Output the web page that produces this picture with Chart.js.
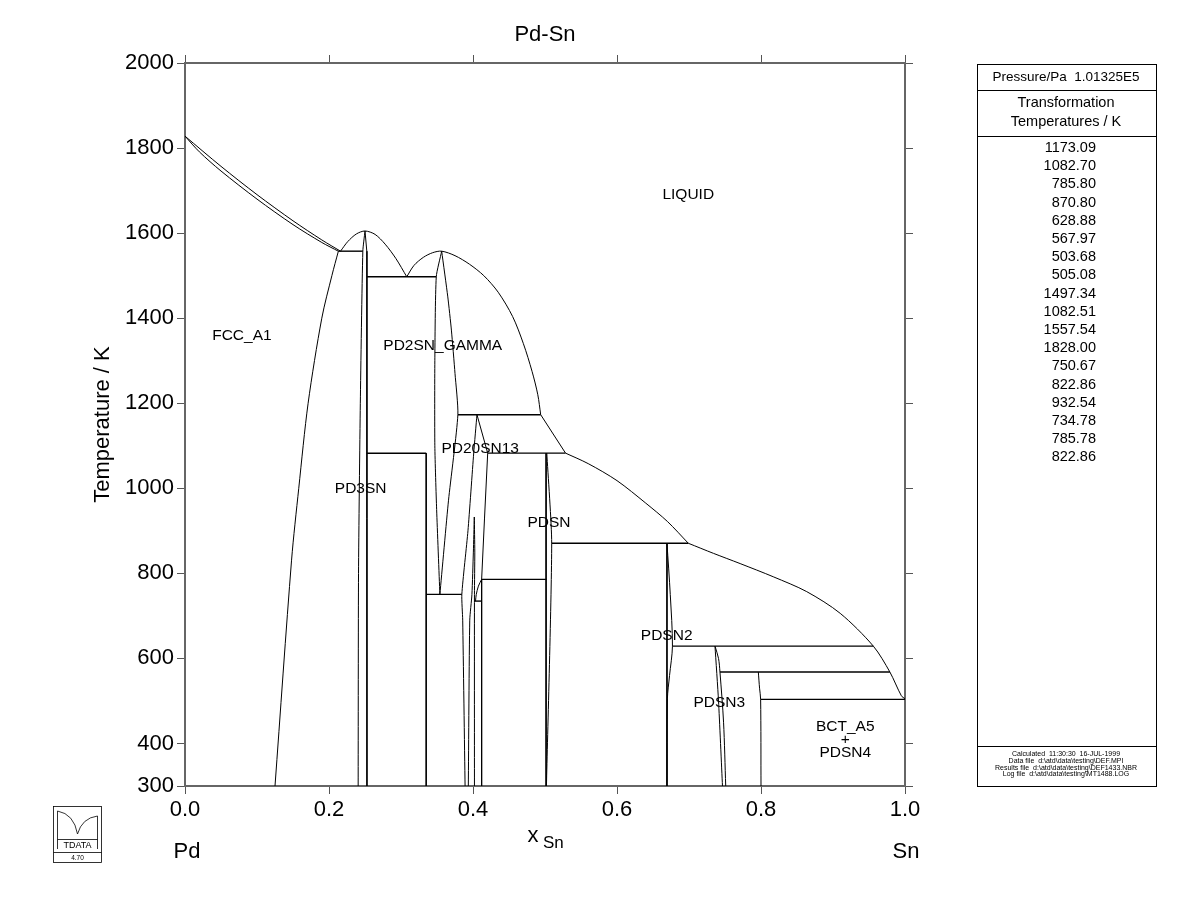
<!DOCTYPE html>
<html>
<head>
<meta charset="utf-8">
<script src="https://cdn.jsdelivr.net/npm/chart.js@4.4.0/dist/chart.umd.min.js"></script>
<style>
  html, body { margin: 0; padding: 0; background: #fff; }
  #wrap { width: 1200px; height: 923px; }
</style>
</head>
<body>
<div id="wrap"><canvas id="phaseChart" width="1200" height="923"></canvas></div>
<script>
// axis ticks
const xTickValues = [0, 0.2, 0.4, 0.6, 0.8, 1.0];
const yTickValues = [300, 400, 600, 800, 1000, 1200, 1400, 1600, 1800, 2000];

// table on the right
const transformationTemps = [1173.09, 1082.70, 785.80, 870.80, 628.88, 567.97, 503.68, 505.08,
  1497.34, 1082.51, 1557.54, 1828.00, 750.67, 822.86, 932.54, 734.78, 785.78, 822.86];

// phase boundaries, [x(Sn), T/K]
const liquidusPd = [[0, 1828], [0.05, 1757], [0.10, 1690.5], [0.15, 1629], [0.19, 1584], [0.216, 1557.5]];
const solidusFcc = [[0, 1828], [0.02, 1791], [0.05, 1746], [0.10, 1680], [0.15, 1620], [0.19, 1578], [0.213, 1557.5]];
const solvusFcc = [[0.213, 1557.5], [0.204, 1500], [0.19, 1400], [0.171, 1200], [0.158, 1000], [0.148, 831], [0.125, 300]];
const liquidusPd3Sn = [[0.216, 1557.5], [0.226, 1580], [0.238, 1598], [0.25, 1605], [0.264, 1597], [0.278, 1574], [0.293, 1540], [0.308, 1497.3]];
const liquidusGamma = [[0.308, 1497.3], [0.318, 1524], [0.331, 1543], [0.344, 1554], [0.3565, 1557.5], [0.375, 1547],
  [0.395, 1527], [0.415, 1500], [0.435, 1461], [0.455, 1404], [0.47, 1340], [0.482, 1275], [0.49, 1220], [0.494, 1173.1]];
const liquidusMid = [[0.494, 1173.1], [0.5285, 1082.7]];
const liquidusPdSn = [[0.5285, 1082.7], [0.56, 1058], [0.60, 1018], [0.64, 965], [0.67, 922], [0.699, 870.8]];
const liquidusSn = [[0.699, 870.8], [0.734, 847], [0.771, 823], [0.817, 792], [0.8635, 757], [0.91, 706],
  [0.956, 628.9], [0.979, 568], [0.995, 512], [1.0, 505.1]];

const pd3snLeft = [[0.25, 1605], [0.247, 1557.5], [0.2435, 1200], [0.241, 800], [0.2405, 300]];
const pd3snRight = [[0.25, 1605], [0.2525, 1557.5], [0.2527, 1497.3], [0.2527, 300]];
const pd2snLine = [[0.335, 1082.51], [0.335, 300]];
const gammaLeft = [[0.3565, 1557.5], [0.349, 1497.34], [0.347, 1300], [0.347, 1100], [0.3495, 950], [0.354, 750.67]];
const gammaRight = [[0.3565, 1557.5], [0.365, 1450], [0.370, 1372], [0.375, 1270], [0.379, 1173.09], [0.366, 972], [0.354, 750.67]];
const pd20sn13Left = [[0.4055, 1173.09], [0.401, 1083], [0.393, 900], [0.3845, 750.67], [0.3857, 690], [0.389, 300]];
const pd20sn13Right = [[0.4055, 1173.09], [0.4204, 1082.7], [0.416, 930], [0.412, 785.8], [0.412, 300]];
const bumpLine = [[0.412, 785.8], [0.4075, 770], [0.4045, 750], [0.4035, 734.78]];
const lensLeft = [[0.4018, 932.54], [0.4005, 850], [0.3985, 750], [0.3955, 690], [0.3935, 300]];
const lensRight = [[0.4018, 932.54], [0.4025, 850], [0.402, 750], [0.402, 300]];
const pdsnLeft = [[0.5015, 1082.7], [0.5015, 300]];
const pdsnRight = [[0.5025, 1082.7], [0.5093, 870.8], [0.502, 300]];
const pdsn2Left = [[0.6694, 870.8], [0.6694, 300]];
const pdsn2Right = [[0.6694, 870.8], [0.674, 750], [0.677, 628.88], [0.673, 560], [0.670, 505], [0.6694, 300]];
const pdsn3Left = [[0.7361, 628.88], [0.741, 500], [0.7465, 300]];
const pdsn3Right = [[0.7361, 628.88], [0.741, 600], [0.743, 567.97], [0.748, 450], [0.751, 300]];
const pdsn4Left = [[0.7963, 567.97], [0.798, 530], [0.7995, 503.68], [0.8, 300]];

// invariant (horizontal) lines
const inv1557 = [[0.213, 1557.54], [0.247, 1557.54]];
const inv1497 = [[0.2527, 1497.34], [0.349, 1497.34]];
const inv1173 = [[0.379, 1173.09], [0.494, 1173.09]];
const inv1082a = [[0.2527, 1082.51], [0.335, 1082.51]];
const inv1082b = [[0.4204, 1082.70], [0.5285, 1082.70]];
const inv871 = [[0.5093, 870.80], [0.699, 870.80]];
const inv786 = [[0.412, 785.80], [0.502, 785.80]];
const inv751 = [[0.335, 750.67], [0.3845, 750.67]];
const inv735 = [[0.402, 734.78], [0.412, 734.78]];
const inv629 = [[0.677, 628.88], [0.956, 628.88]];
const inv568 = [[0.743, 567.97], [0.979, 567.97]];
const inv504 = [[0.7995, 503.68], [1.0, 503.68]];

// phase labels: text, x, T
const phaseLabels = [
  ['LIQUID', 0.699, 1690], ['FCC_A1', 0.079, 1358], ['PD2SN_GAMMA', 0.358, 1335],
  ['PD20SN13', 0.41, 1092], ['PD3SN', 0.244, 1000], ['PDSN', 0.5055, 918],
  ['PDSN2', 0.669, 653], ['PDSN3', 0.742, 495],
  ['BCT_A5', 0.917, 439], ['+', 0.917, 408], ['PDSN4', 0.917, 378]
];

const curves = [
  [liquidusPd, 0.3], [solidusFcc, 0.3], [solvusFcc, 0.3], [liquidusPd3Sn, 0.3], [liquidusGamma, 0.3],
  [liquidusMid, 0], [liquidusPdSn, 0.3], [liquidusSn, 0.3],
  [pd3snLeft, 0.2], [pd3snRight, 0], [pd2snLine, 0], [gammaLeft, 0.2], [gammaRight, 0.2],
  [pd20sn13Left, 0.2], [pd20sn13Right, 0], [bumpLine, 0.3], [lensLeft, 0.2], [lensRight, 0.2],
  [pdsnLeft, 0], [pdsnRight, 0.2], [pdsn2Left, 0], [pdsn2Right, 0.3],
  [pdsn3Left, 0.2], [pdsn3Right, 0.3], [pdsn4Left, 0.3]
];
const invariants = [inv1557, inv1497, inv1173, inv1082a, inv1082b, inv871, inv786, inv751, inv735, inv629, inv568, inv504];

const FONT = "'Liberation Sans', Arial, sans-serif";

const datasets = [];
curves.forEach(([pts, t]) => {
  datasets.push({
    data: pts.map(p => ({ x: p[0], y: p[1] })),
    showLine: true, borderColor: '#000', borderWidth: 1, pointRadius: 0, tension: t
  });
});
invariants.forEach(pts => {
  datasets.push({
    data: pts.map(p => ({ x: p[0], y: p[1] })),
    showLine: true, borderColor: '#000', borderWidth: 1.4, pointRadius: 0, tension: 0
  });
});

const overlay = {
  id: 'overlay',
  afterDraw(chart) {
    const ctx = chart.ctx;
    const xs = chart.scales.x, ys = chart.scales.y;
    ctx.save();
    ctx.fillStyle = '#000';
    ctx.strokeStyle = '#000';
    ctx.textBaseline = 'middle';

    ctx.font = '22px ' + FONT;
    ctx.textAlign = 'center';
    ctx.fillText('Pd-Sn', (chart.chartArea.left + chart.chartArea.right) / 2, 35);
    ctx.fillText('Pd', xs.getPixelForValue(0) + 2, 852);
    ctx.fillText('Sn', xs.getPixelForValue(1) + 1, 852);
    ctx.fillText('x', 533, 836);
    ctx.font = '17px ' + FONT;
    ctx.textAlign = 'left';
    ctx.fillText('Sn', 543, 843);

    ctx.font = '15.5px ' + FONT;
    ctx.textAlign = 'center';
    phaseLabels.forEach(([t, x, y]) => {
      ctx.fillText(t, xs.getPixelForValue(x), ys.getPixelForValue(y));
    });

    // right panel
    ctx.lineWidth = 1;
    ctx.strokeRect(977.5, 64.5, 179, 722);
    const line = (x1, y1, x2, y2) => { ctx.beginPath(); ctx.moveTo(x1, y1); ctx.lineTo(x2, y2); ctx.stroke(); };
    line(977.5, 90.5, 1156.5, 90.5);
    line(977.5, 136.5, 1156.5, 136.5);
    line(977.5, 746.5, 1156.5, 746.5);
    ctx.font = '13.5px ' + FONT;
    ctx.fillText('Pressure/Pa  1.01325E5', 1066, 77);
    ctx.font = '14.5px ' + FONT;
    ctx.fillText('Transformation', 1066, 103);
    ctx.fillText('Temperatures / K', 1066, 122);
    ctx.textAlign = 'right';
    transformationTemps.forEach((v, i) => {
      ctx.fillText(v.toFixed(2), 1096, 148 + i * 18.2);
    });
    ctx.textAlign = 'center';
    ctx.font = '7px ' + FONT;
    ['Calculated  11:30:30  16-JUL-1999', 'Data file  d:\\atd\\data\\testing\\DEF.MPI',
     'Results file  d:\\atd\\data\\testing\\DEF1433.NBR', 'Log file  d:\\atd\\data\\testing\\MT1488.LOG']
      .forEach((s, i) => ctx.fillText(s, 1066, 754 + i * 6.8));

    // TDATA logo
    ctx.lineWidth = 0.8;
    ctx.strokeRect(53.5, 806.5, 48, 56);
    line(53.5, 852.5, 101.5, 852.5);
    line(57.5, 811, 57.5, 849);
    line(97.5, 816, 97.5, 849);
    line(57.5, 839.5, 97.5, 839.5);
    ctx.beginPath(); ctx.moveTo(57.5, 811); ctx.quadraticCurveTo(74, 814, 77.5, 834); ctx.stroke();
    ctx.beginPath(); ctx.moveTo(97.5, 816); ctx.quadraticCurveTo(82, 818, 77.5, 834); ctx.stroke();
    ctx.font = '9px ' + FONT;
    ctx.fillText('TDATA', 77.5, 845.5);
    ctx.font = '6.5px ' + FONT;
    ctx.fillText('4.70', 77.5, 858);
    ctx.restore();
  }
};

const axisBorder = { display: true, color: '#666', width: 2 };
const axisGrid = { drawOnChartArea: false, drawTicks: true, tickLength: 8, color: '#555', lineWidth: 1 };

new Chart(document.getElementById('phaseChart'), {
  type: 'scatter',
  data: { datasets },
  options: {
    responsive: false,
    animation: false,
    layout: { padding: { left: 90, right: 0, top: 0, bottom: 0 } },
    plugins: { legend: { display: false }, tooltip: { enabled: false } },
    scales: {
      x: {
        type: 'linear', position: 'bottom', min: 0, max: 1,
        afterBuildTicks: s => { s.ticks = xTickValues.map(v => ({ value: v })); },
        afterFit: s => { s.height = 137; },
        ticks: { callback: v => v.toFixed(1), font: { size: 22, family: FONT }, color: '#000', padding: 3, maxRotation: 0, autoSkip: false },
        grid: axisGrid, border: axisBorder
      },
      x2: {
        type: 'linear', position: 'top', min: 0, max: 1,
        afterBuildTicks: s => { s.ticks = xTickValues.map(v => ({ value: v })); },
        afterFit: s => { s.height = 63; },
        ticks: { display: false },
        grid: axisGrid, border: axisBorder
      },
      y: {
        type: 'linear', position: 'left', min: 300, max: 2000,
        afterBuildTicks: s => { s.ticks = yTickValues.map(v => ({ value: v })); },
        afterFit: s => { s.width = 95; },
        title: { display: true, text: 'Temperature / K', font: { size: 22, family: FONT }, color: '#000', padding: { top: 0, bottom: 0 } },
        ticks: { callback: v => String(v), font: { size: 22, family: FONT }, color: '#000', padding: 3, autoSkip: false },
        grid: axisGrid, border: axisBorder
      },
      y2: {
        type: 'linear', position: 'right', min: 300, max: 2000,
        afterBuildTicks: s => { s.ticks = yTickValues.map(v => ({ value: v })); },
        afterFit: s => { s.width = 295; },
        ticks: { display: false },
        grid: axisGrid, border: axisBorder
      }
    }
  },
  plugins: [overlay]
});
</script>
</body>
</html>
